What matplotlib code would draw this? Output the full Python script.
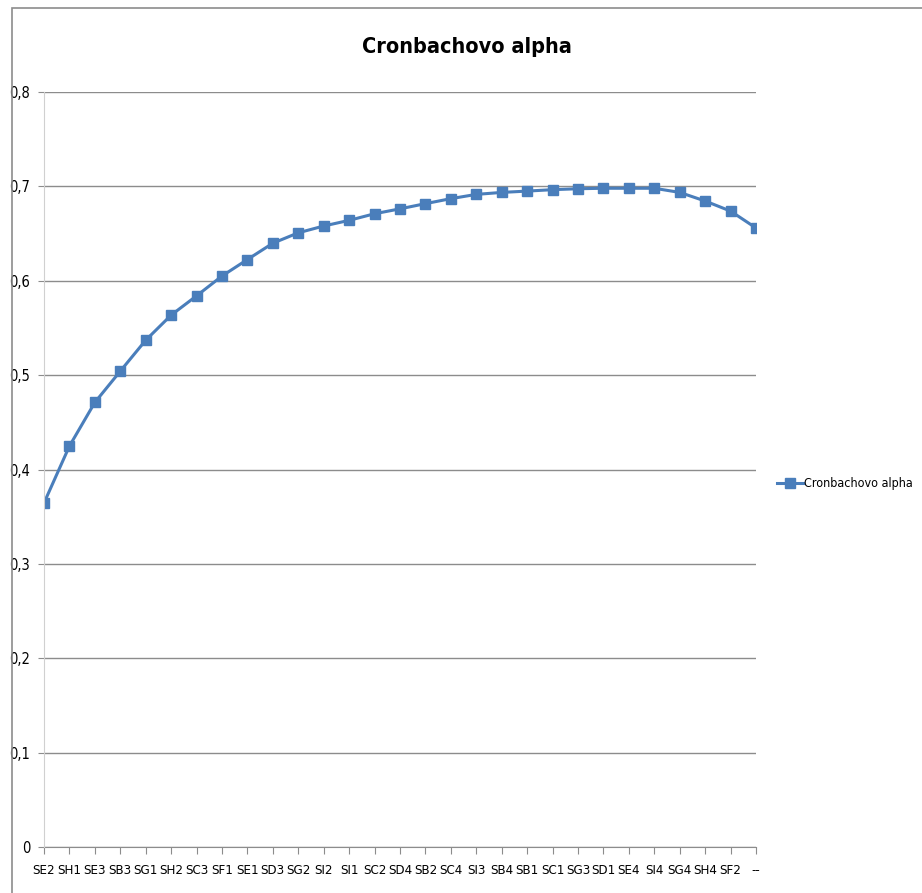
import matplotlib.pyplot as plt
from matplotlib.patches import Rectangle
from matplotlib.ticker import FuncFormatter

plt.rcParams['font.family'] = ['DejaVu Sans']
plt.rcParams['font.stretch'] = 'condensed'

# item labels in the order they were dropped, and alpha after each step
items = ['SE2', 'SH1', 'SE3', 'SB3', 'SG1', 'SH2', 'SC3', 'SF1', 'SE1', 'SD3',
         'SG2', 'SI2', 'SI1', 'SC2', 'SD4', 'SB2', 'SC4', 'SI3', 'SB4', 'SB1',
         'SC1', 'SG3', 'SD1', 'SE4', 'SI4', 'SG4', 'SH4', 'SF2', '--']
alpha = [0.3645, 0.4248, 0.4711, 0.5042, 0.5370, 0.5636, 0.5840, 0.6050, 0.6225, 0.6398,
         0.6508, 0.6580, 0.6640, 0.6710, 0.6762, 0.6817, 0.6870, 0.6915, 0.6936, 0.6950,
         0.6965, 0.6975, 0.6980, 0.6980, 0.6980, 0.6936, 0.6845, 0.6738, 0.6559]
yticks = [0, 0.1, 0.2, 0.3, 0.4, 0.5, 0.6, 0.7, 0.8]

W, H = 922, 893
fig = plt.figure(figsize=(W/100, H/100), dpi=100)
# chart area border (only top and left edges show)
fig.patches.append(Rectangle((12/W, -0.1), 1.2, 1 - 8/H + 0.1, transform=fig.transFigure,
                             fill=False, edgecolor='#8c8c8c', linewidth=1.2))

ax = fig.add_axes([44/W, 1 - 847/H, (756-44)/W, (847-92)/H])
x = list(range(len(items)))
ax.plot(x, alpha, color='#4a7ebb', linewidth=2.2, marker='s', markersize=6.5,
        label='Cronbachovo alpha')

ax.set_xlim(0, len(items) - 1)
ax.set_ylim(0, 0.8)
ax.set_xticks(x)
ax.set_xticklabels(items, fontsize=9.5)
ax.set_yticks(yticks)
ax.yaxis.set_major_formatter(FuncFormatter(lambda v, p: ('%g' % round(v, 1)).replace('.', ',')))
ax.tick_params(axis='y', labelsize=10.5, length=4, color='#8c8c8c', pad=6)
ax.tick_params(axis='x', length=5, color='#8c8c8c', pad=7)
ax.grid(axis='y', color='#8c8c8c', linewidth=1)
ax.set_axisbelow(True)
for s in ['top', 'right']:
    ax.spines[s].set_visible(False)
ax.spines['left'].set_color('#d0d0d0')
ax.spines['bottom'].set_color('#8c8c8c')
ax.spines['bottom'].set_zorder(0.5)

fig.text(467/W, 1 - 47/H, 'Cronbachovo alpha', ha='center', va='center',
         fontsize=15.5, fontweight='bold')
ax.legend(loc='center left', bbox_to_anchor=(777/W, 1 - 484/H), bbox_transform=fig.transFigure,
          frameon=False, fontsize=9, handlelength=2.1, handletextpad=0.05, borderpad=0,
          borderaxespad=0)

fig.savefig('out.png', dpi=100)
